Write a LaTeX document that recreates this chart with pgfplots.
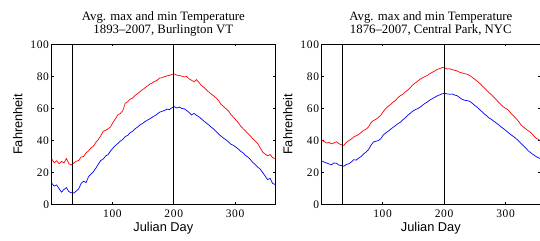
\documentclass[border=0pt]{standalone}
\usepackage{fontspec}
\setmainfont{Liberation Serif}
\newfontfamily\hel{Liberation Sans}
\newfontfamily\mytickfont[LetterSpace=6]{Liberation Serif}
\usepackage{pgfplots}
\usepackage{pgfplotstable}
\pgfplotsset{compat=1.18}

\pgfplotstableread{
day max min
1 28.3 13.2
5 26.0 11.4
9 27.2 12.1
13 25.4 9.8
17 26.8 7.6
21 25.9 9.3
25 28.6 10.4
29 25.3 7.9
33 24.6 7.2
37 25.8 7.0
41 26.9 8.3
45 27.4 9.6
49 29.6 13.1
53 29.9 14.4
57 32.1 13.6
61 33.4 17.2
65 35.2 18.9
69 36.4 20.4
73 38.7 22.6
77 40.5 25.1
81 42.8 27.4
85 45.6 28.3
89 46.3 30.2
93 47.2 31.1
97 48.4 33.4
101 51.3 35.2
105 53.5 36.8
109 55.9 38.1
113 56.8 39.5
117 58.6 40.6
121 63.2 42.4
125 64.1 43.1
129 65.7 44.8
133 66.4 45.6
137 68.1 47.2
141 69.2 48.3
145 70.4 49.6
149 71.6 50.5
153 72.8 51.7
157 73.9 52.6
161 75.1 53.4
165 75.9 54.5
169 76.8 55.3
173 77.6 56.4
177 78.9 57.6
181 79.1 58.1
185 79.8 58.7
189 80.3 59.5
193 80.6 59.2
197 81.2 60.4
201 81.4 61.0
205 80.7 60.2
209 80.5 60.8
213 80.1 59.9
217 79.6 59.7
221 79.9 58.6
225 78.4 57.4
229 77.5 55.9
233 76.6 56.8
237 77.9 55.6
241 76.2 54.7
245 74.3 53.4
249 73.1 52.1
253 71.6 50.8
257 70.2 49.6
261 68.9 48.2
265 67.8 47.1
269 66.4 45.5
273 64.8 43.9
277 62.5 42.6
281 61.1 41.4
285 59.8 40.3
289 58.4 39.1
293 56.2 37.6
297 54.6 36.9
301 52.8 35.8
305 51.1 34.6
309 48.9 33.2
313 47.3 32.1
317 45.8 30.6
321 44.1 29.4
325 42.7 27.9
329 40.9 26.1
333 39.4 24.8
337 37.8 23.2
341 35.2 21.9
345 32.6 19.8
349 31.4 17.6
353 30.3 15.4
357 31.1 16.2
361 29.2 13.1
365 28.6 12.4
}\burl

\pgfplotstableread{
day max min
1 40.1 27.1
5 39.2 26.4
9 38.3 25.8
13 38.6 25.2
17 37.8 24.7
21 38.4 25.9
25 39.1 25.6
29 37.9 24.5
33 37.2 24.2
37 36.9 23.8
41 38.6 24.9
45 39.8 25.3
49 40.7 26.4
53 42.1 27.9
57 42.8 27.6
61 43.6 28.8
65 44.9 29.9
69 46.2 31.4
73 46.9 32.6
77 48.4 34.1
81 50.8 36.8
85 52.3 38.9
89 53.1 39.4
93 54.2 39.8
97 55.6 40.9
101 57.9 43.2
105 59.8 44.6
109 61.2 45.6
113 62.4 46.9
117 63.8 48.1
121 64.9 49.2
125 66.7 50.4
129 67.9 51.3
133 68.8 52.8
137 70.3 54.1
141 71.4 55.6
145 72.9 56.9
149 74.6 58.2
153 75.8 59.1
157 76.9 59.8
161 78.2 60.7
165 79.1 61.9
169 79.8 63.1
173 80.6 64.0
177 81.7 65.2
181 82.5 66.1
185 83.4 66.9
189 84.3 67.8
193 84.8 68.4
197 85.5 69.1
201 85.3 69.3
205 84.6 69.0
209 84.7 68.8
213 84.2 68.9
217 83.8 68.3
221 83.4 67.9
225 82.6 66.8
229 82.1 65.7
233 81.7 65.1
237 81.3 64.8
241 80.6 64.5
245 79.6 63.4
249 78.4 62.1
253 77.2 60.9
257 75.9 59.6
261 74.4 58.1
265 72.9 56.6
269 71.3 55.4
273 69.8 54.0
277 68.5 53.1
281 66.9 51.9
285 65.4 50.8
289 63.6 49.6
293 62.1 48.3
297 60.7 47.2
301 59.8 45.9
305 58.6 44.6
309 56.8 43.4
313 55.3 42.3
317 53.6 41.1
321 51.9 39.6
325 49.7 38.1
329 48.3 36.6
333 47.1 35.1
337 45.9 33.4
341 44.8 32.2
345 43.2 31.1
349 41.5 30.0
353 40.6 29.1
357 39.8 28.5
361 39.1 27.6
365 38.4 26.9
}\nyc

\pgfplotsset{
  mat/.style={
    scale only axis,
    height=160bp,
    ymin=0, ymax=100, xmin=1,
    xtick={100,200,300},
    ytick={0,20,40,60,80,100},
    tick align=inside,
    xtick pos=both, ytick pos=both,
    major tick length=2.2bp,
    axis line style={line width=0.7bp},
    every tick/.style={line width=0.6bp, black},
    /pgf/number format/assume math mode=true,
    tick label style={font=\mytickfont\fontsize{11.5bp}{12bp}\selectfont},
    yticklabel style={anchor=east, inner sep=0pt, xshift=-2.5bp},
    xticklabel style={anchor=north, inner sep=0pt, yshift=-5.7bp},
    title style={at={(axis description cs:0.5,1)}, anchor=south, inner sep=0pt, yshift=2bp,
      text depth=2.8bp, font=\fontsize{12.8bp}{13.3bp}\selectfont, align=center},
    xlabel={Julian Day},
    ylabel={Fahrenheit},
    label style={font=\hel\fontsize{12.8bp}{14bp}\selectfont, inner sep=0pt},
    xlabel style={at={(axis description cs:0.5,-0.171)}, anchor=base},
    every axis plot/.append style={line width=0.7bp},
  }
}

\begin{document}
\begin{tikzpicture}
\path[use as bounding box] (-51.7bp,-36.7bp) rectangle (488.3bp,204.3bp);
\begin{axis}[mat, at={(0bp,0bp)}, anchor=south west, width=223.3bp, xmax=365,
  ylabel style={at={(axis description cs:-0.130,0.5)}, anchor=south},
  title={Avg. max and min Temperature\\1893--2007, Burlington VT}]
\addplot[red, no marks] table[x=day, y=max] {\burl};
\addplot[blue, no marks] table[x=day, y=min] {\burl};
\addplot[black, no marks] coordinates {(35,0) (35,100)};
\addplot[black, no marks] coordinates {(200,0) (200,100)};
\end{axis}
\begin{axis}[mat, at={(270bp,0bp)}, anchor=south west, width=218.3bp, xmax=356,
  ylabel style={at={(axis description cs:-0.133,0.5)}, anchor=south},
  title={Avg. max and min Temperature\\1876--2007, Central Park, NYC}]
\addplot[red, no marks] table[x=day, y=max] {\nyc};
\addplot[blue, no marks] table[x=day, y=min] {\nyc};
\addplot[black, no marks] coordinates {(35,0) (35,100)};
\addplot[black, no marks] coordinates {(200,0) (200,100)};
\end{axis}
\end{tikzpicture}
\end{document}
